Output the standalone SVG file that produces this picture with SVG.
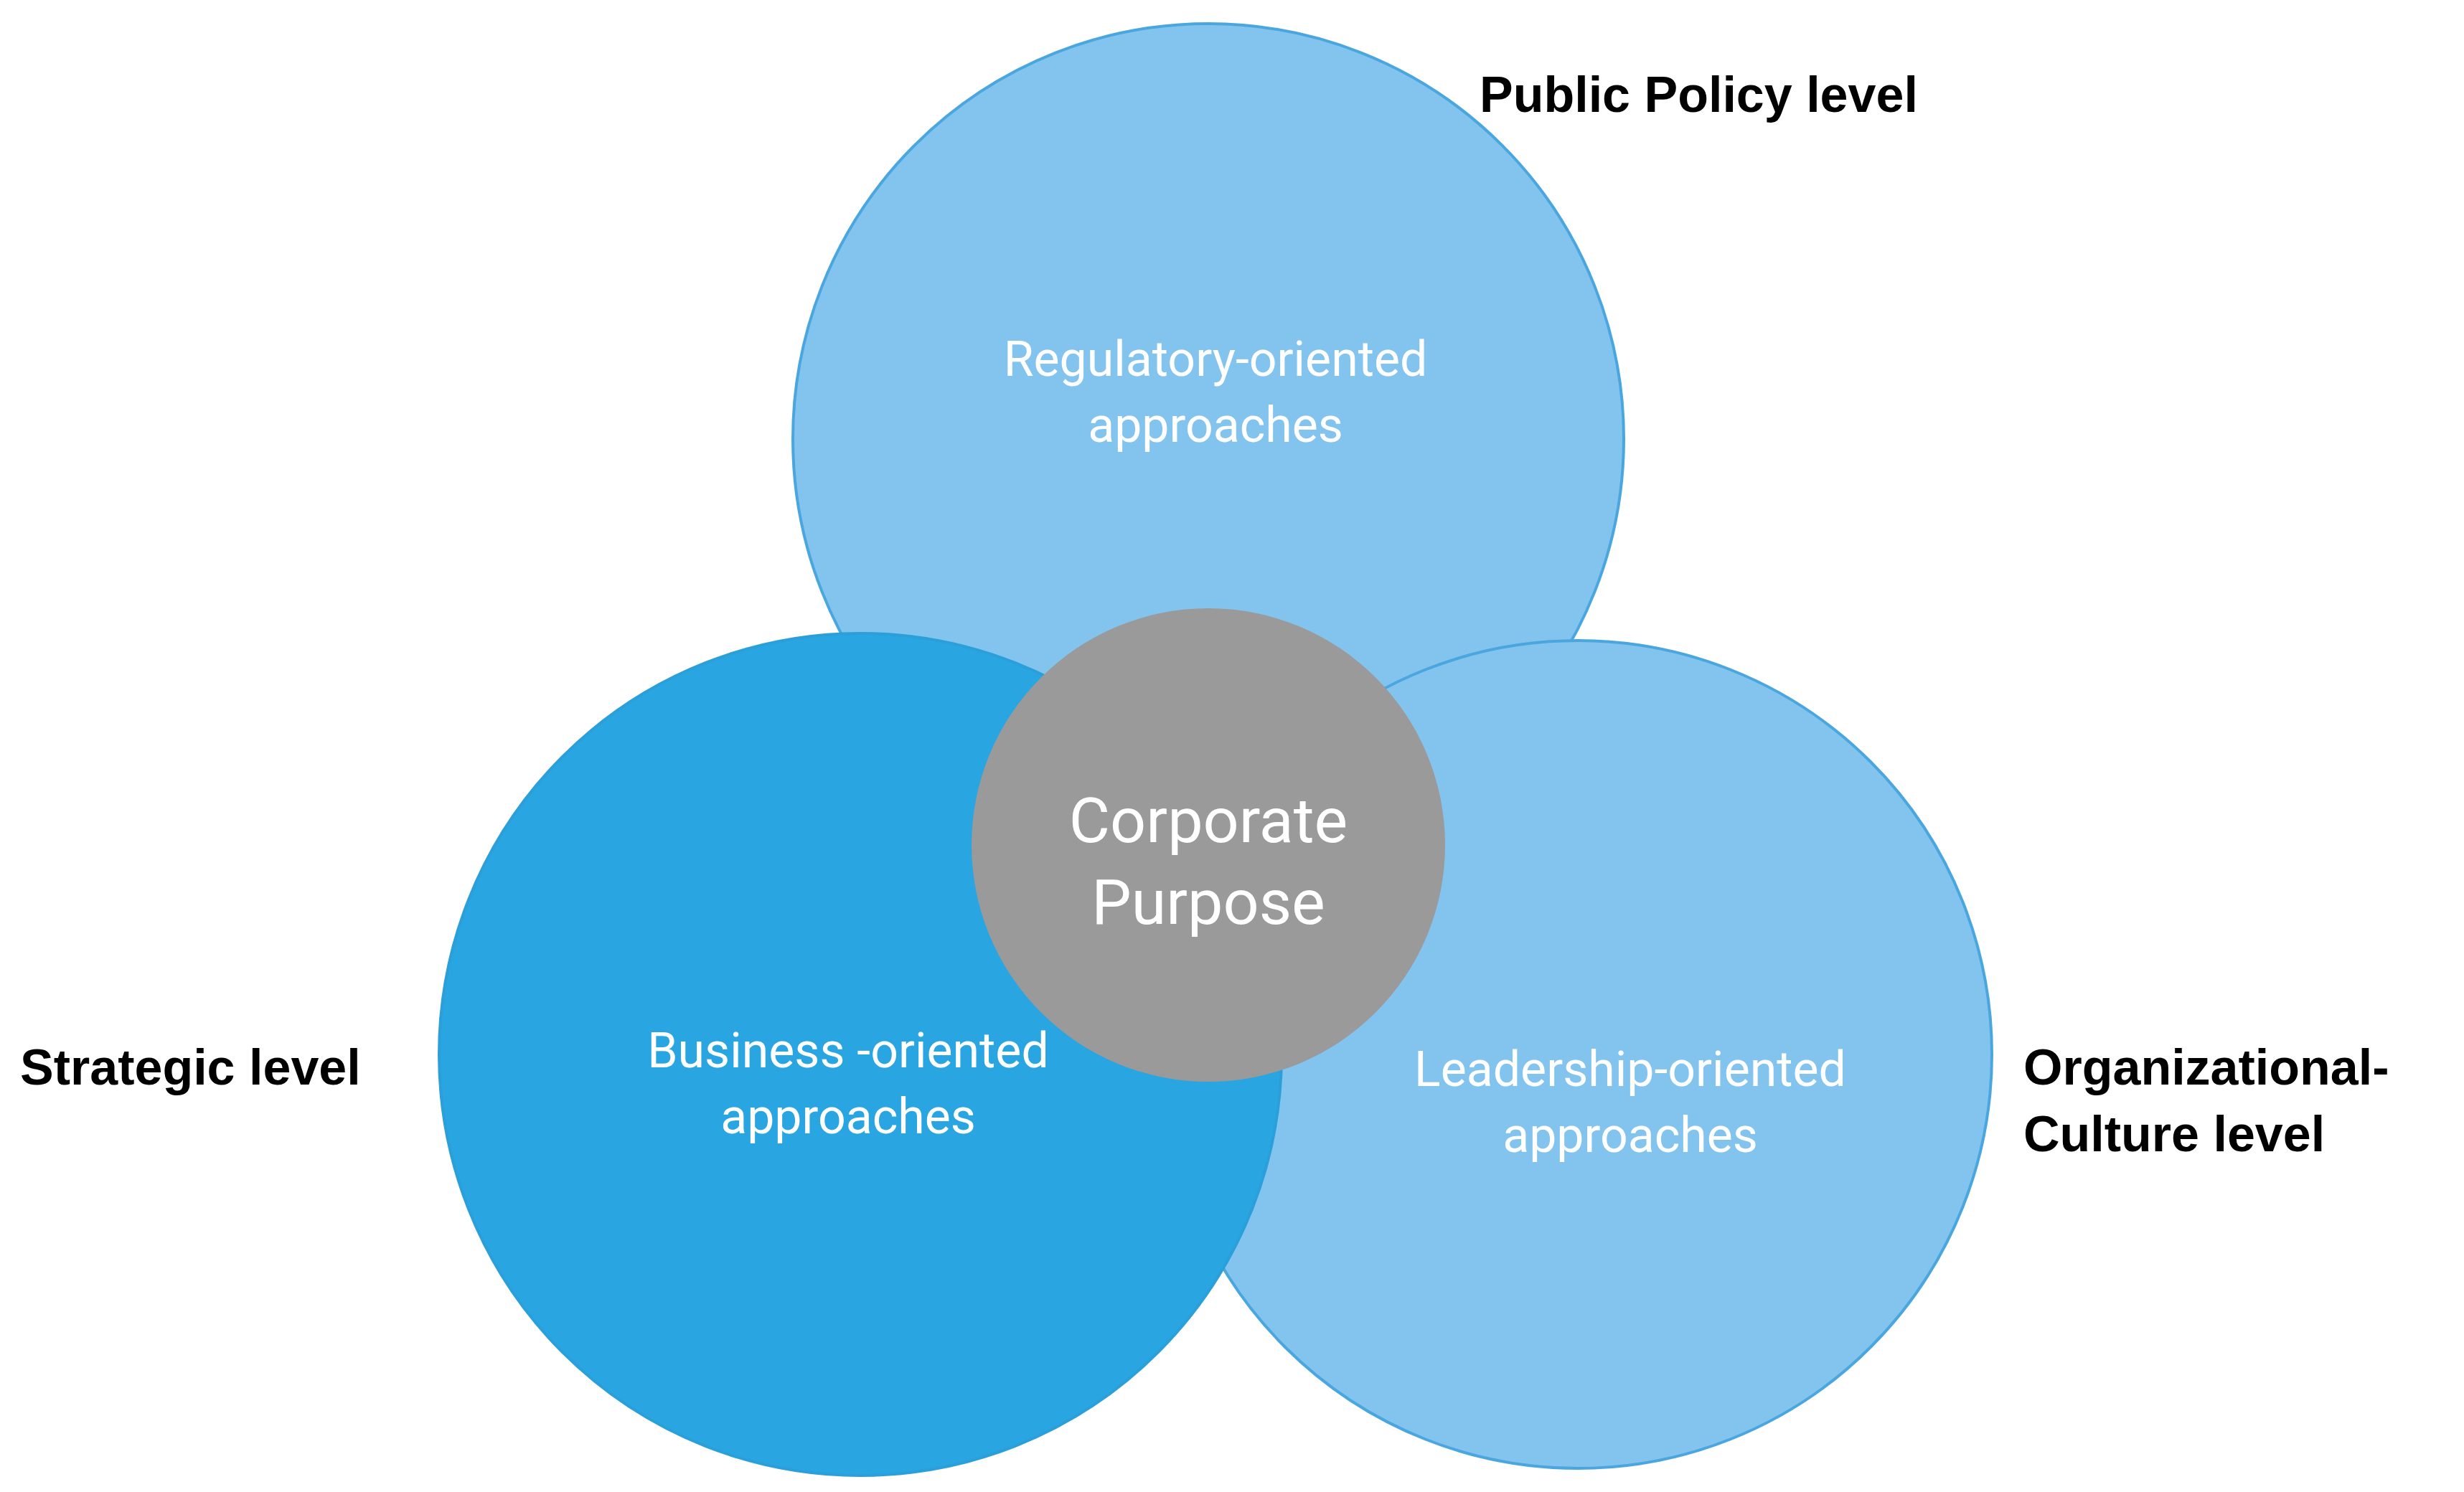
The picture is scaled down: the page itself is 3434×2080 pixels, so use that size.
<svg xmlns="http://www.w3.org/2000/svg" width="3434" height="2080" viewBox="0 0 3434 2080">
<style>
.light{fill:#83C4EE;stroke:#4AA6DF;stroke-width:4}
.dark{fill:#29A5E1;stroke:#2A9FDA;stroke-width:4}
.grey{fill:#9A9A9A}
.in{font-family:Roboto,"Liberation Sans",sans-serif;fill:#fff;text-anchor:middle;font-size:68px}
.big{font-size:88px}
.lab{font-family:"Liberation Sans",Arial,sans-serif;font-weight:bold;font-size:70px;fill:#000}
</style>
<rect width="3434" height="2080" fill="#fff"/>
<g id="public-policy"><circle class="light" cx="1684" cy="612" r="579"/>
<text class="in" x="1694" y="524">Regulatory-oriented</text><text class="in" x="1694" y="616">approaches</text></g>
<g id="org-culture"><circle class="light" cx="2199" cy="1470" r="577"/>
<text class="in" x="2272" y="1514">Leadership-oriented</text><text class="in" x="2272" y="1606">approaches</text></g>
<g id="strategic"><circle class="dark" cx="1199" cy="1470" r="587"/>
<text class="in" x="1182" y="1488">Business -oriented</text><text class="in" x="1182" y="1580">approaches</text></g>
<g id="corporate-purpose"><circle class="grey" cx="1684" cy="1178" r="330"/>
<text class="in big" x="1684" y="1174">Corporate</text><text class="in big" x="1684" y="1288">Purpose</text></g>
<g id="labels">
<text class="lab" x="2062" y="156">Public Policy level</text>
<text class="lab" x="28" y="1512">Strategic level</text>
<text class="lab" x="2820" y="1512">Organizational-</text>
<text class="lab" x="2820" y="1605">Culture level</text>
</g>
<g id="connectors"/>
</svg>
